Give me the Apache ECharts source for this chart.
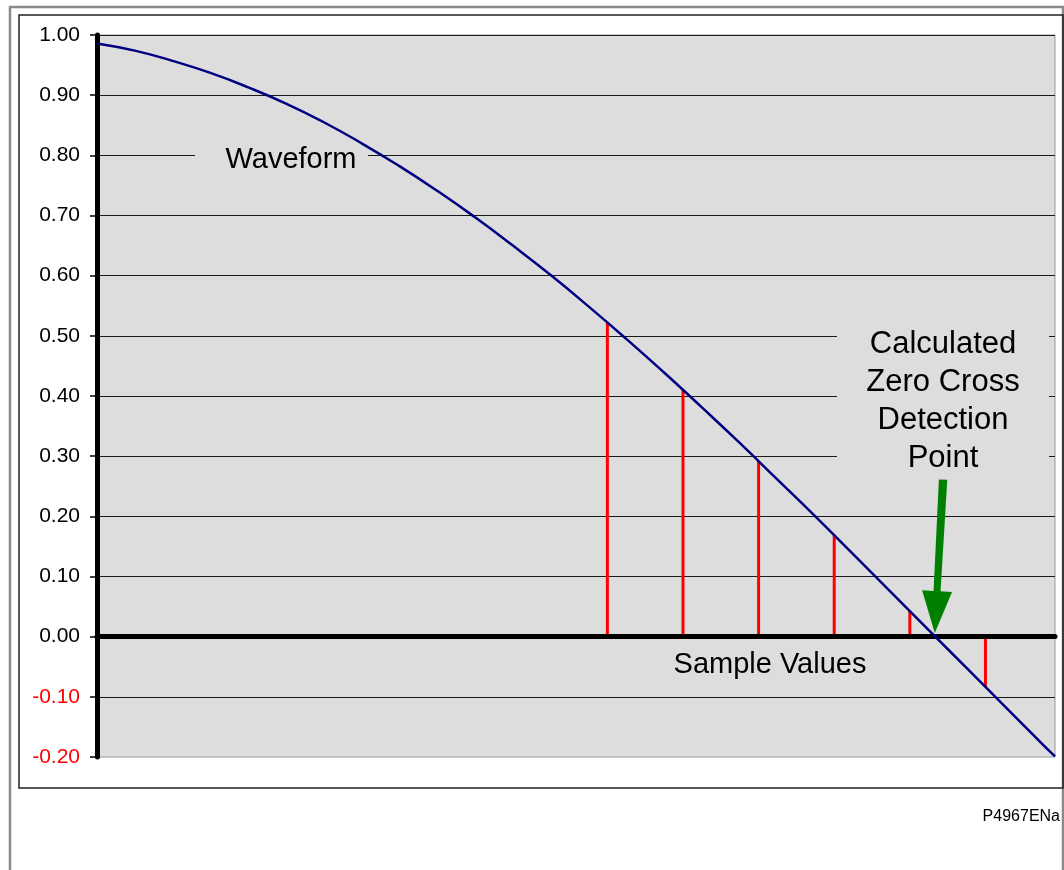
<!DOCTYPE html>
<html><head><meta charset="utf-8">
<script src="https://cdn.jsdelivr.net/npm/echarts@6/dist/echarts.min.js"></script>
<style>html,body{margin:0;padding:0;background:#fff}#c{width:1064px;height:870px}</style>
</head><body><div id="c"></div><script>
// ---- data ----
const waveX = [0, 0.5, 1, 1.5, 2, 2.5, 3, 3.5, 4, 4.5, 5, 5.5, 6, 6.5, 7, 7.5, 8, 8.5, 9, 9.5, 10, 10.5, 11, 11.5, 12, 12.5, 12.67];
const waveY = [0.986, 0.974, 0.957, 0.937, 0.913, 0.886, 0.855, 0.820, 0.782, 0.741, 0.697, 0.650, 0.601, 0.549, 0.495, 0.439, 0.381, 0.322, 0.261, 0.200, 0.137, 0.074, 0.011, -0.052, -0.115, -0.178, -0.199];
const sampleX = [6.75, 7.75, 8.75, 9.75, 10.75, 11.75];
const sampleY = [0.522, 0.410, 0.292, 0.169, 0.043, -0.084];
const yTickLabels = ['-0.20', '-0.10', '0.00', '0.10', '0.20', '0.30', '0.40', '0.50', '0.60', '0.70', '0.80', '0.90', '1.00'];
const zeroCrossArrow = [11.08, 0.006, 11.19, 0.261]; // tip x, tip y, tail x, tail y
const xMin = 0, xMax = 12.67;
const yMin = -0.2, yMax = 1.0, yStep = 0.1;

const FONT = '"Liberation Sans", Arial, sans-serif';
const chart = echarts.init(document.getElementById('c'), null, {renderer: 'canvas'});

const waveData = waveX.map((x, i) => [x, waveY[i]]);
const sampleData = sampleX.map((x, i) => [x, sampleY[i]]);

function arrowItem(params, api) {
  const tip = api.coord([api.value(0), api.value(1)]);
  const tail = api.coord([api.value(2), api.value(3)]);
  const dx = tip[0] - tail[0], dy = tip[1] - tail[1];
  const L = Math.sqrt(dx * dx + dy * dy);
  const ux = dx / L, uy = dy / L;
  const nx = -uy, ny = ux;
  const headLen = 42, headHalf = 15, baseHalf = 3.5, tailHalf = 4.2;
  const bx = tip[0] - ux * headLen, by = tip[1] - uy * headLen;
  const pts = [
    [tail[0] + nx * tailHalf, tail[1] + ny * tailHalf],
    [bx + nx * baseHalf, by + ny * baseHalf],
    [bx + nx * headHalf, by + ny * headHalf],
    [tip[0], tip[1]],
    [bx - nx * headHalf, by - ny * headHalf],
    [bx - nx * baseHalf, by - ny * baseHalf],
    [tail[0] - nx * tailHalf, tail[1] - ny * tailHalf]
  ];
  return {type: 'polygon', shape: {points: pts}, style: {fill: '#008000'}};
}

const option = {
  animation: false,
  backgroundColor: '#ffffff',
  grid: {
    left: 97, top: 35, right: 9, bottom: 113,
    show: true, backgroundColor: '#DDDDDD', borderColor: '#999999', borderWidth: 1
  },
  xAxis: {
    type: 'value', min: xMin, max: xMax, z: 3,
    axisLine: {show: true, onZero: true, lineStyle: {color: '#000', width: 5, cap: 'round'}},
    axisTick: {show: false}, axisLabel: {show: false}, splitLine: {show: false}
  },
  yAxis: {
    type: 'value', min: yMin, max: yMax, interval: yStep,
    axisLine: {show: true, onZero: false, lineStyle: {color: '#000', width: 5, cap: 'round'}},
    axisTick: {show: true, length: 7, lineStyle: {color: '#000', width: 1.5}},
    axisLabel: {
      fontFamily: FONT, fontSize: 21, margin: 17,
      formatter: (v) => yTickLabels[Math.round((v - yMin) / yStep)],
      color: (v) => (Number(v) < 0 || String(v).charAt(0) === '-') ? '#FF0000' : '#000000'
    },
    splitLine: {show: true, showMinLine: false, showMaxLine: true, lineStyle: {color: '#1a1a1a', width: 1}}
  },
  graphic: [
    {type: 'rect', z: 0, shape: {x: 10, y: 7, width: 1053, height: 900}, style: {fill: 'none', stroke: '#8a8a8a', lineWidth: 2.5}},
    {type: 'rect', z: 0, shape: {x: 19, y: 15, width: 1044, height: 773}, style: {fill: 'none', stroke: '#222', lineWidth: 1.5}},
    {type: 'rect', z: 1, shape: {x: 195, y: 142, width: 173, height: 34}, style: {fill: '#DDDDDD'}},
    {type: 'text', z: 1, x: 291, y: 160, style: {text: 'Waveform', fill: '#000', font: '29px ' + FONT, textAlign: 'center', textVerticalAlign: 'middle'}},
    {type: 'rect', z: 1, shape: {x: 837, y: 322, width: 212, height: 150}, style: {fill: '#DDDDDD'}},
    {type: 'text', z: 1, x: 943, y: 401, style: {text: 'Calculated\nZero Cross\nDetection\nPoint', fill: '#000', font: '31px ' + FONT, lineHeight: 38, textAlign: 'center', textVerticalAlign: 'middle'}},
    {type: 'text', z: 1, x: 770, y: 665, style: {text: 'Sample Values', fill: '#000', font: '29px ' + FONT, textAlign: 'center', textVerticalAlign: 'middle'}},
    {type: 'text', z: 1, x: 1060, y: 817, style: {text: 'P4967ENa', fill: '#000', font: '16px ' + FONT, textAlign: 'right', textVerticalAlign: 'middle'}}
  ],
  series: [
    {
      name: 'Sample Values', type: 'bar', data: sampleData, barWidth: 3, z: 2,
      itemStyle: {color: '#FF0000'}, silent: true
    },
    {
      name: 'Waveform', type: 'line', data: waveData, smooth: true, symbol: 'none', z: 5,
      lineStyle: {color: '#000080', width: 2.5}, silent: true
    },
    {
      name: 'Arrow', type: 'custom', renderItem: arrowItem, data: [zeroCrossArrow], z: 6,
      encode: {x: [0, 2], y: [1, 3]}, silent: true
    }
  ]
};
chart.setOption(option);
</script></body></html>
